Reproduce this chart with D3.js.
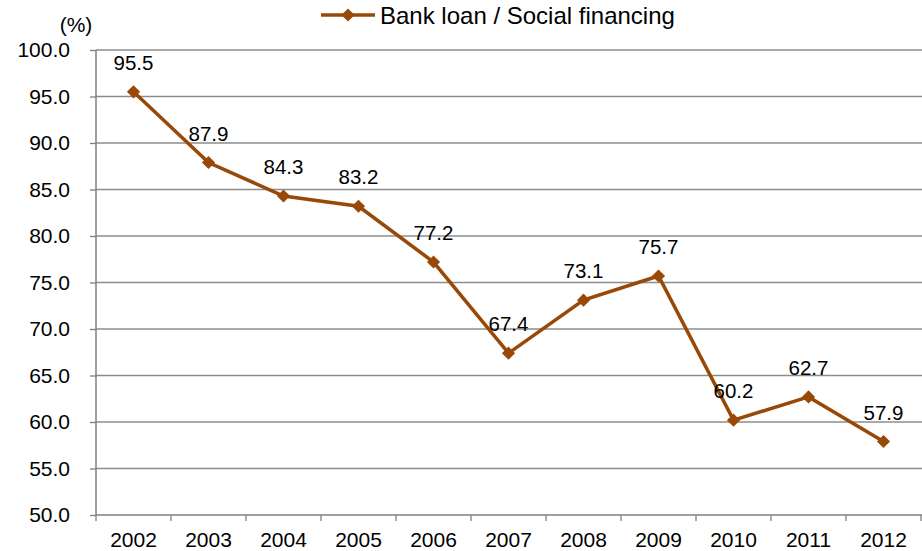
<!DOCTYPE html>
<html>
<head>
<meta charset="utf-8">
<script src="https://cdn.jsdelivr.net/npm/d3@7"></script>
<style>
  body { margin: 0; background: #fff; }
  text { font-family: "Liberation Sans", Arial, sans-serif; fill: #000; }
</style>
</head>
<body>
<div id="chart"></div>
<script>
// chart data
const years = ["2002", "2003", "2004", "2005", "2006", "2007", "2008", "2009", "2010", "2011", "2012"];
const loanShare = [95.5, 87.9, 84.3, 83.2, 77.2, 67.4, 73.1, 75.7, 60.2, 62.7, 57.9];
const yTicks = [50, 55, 60, 65, 70, 75, 80, 85, 90, 95, 100];
const seriesName = "Bank loan / Social financing";

const width = 922, height = 551;
const margin = { top: 50, right: 1, bottom: 36, left: 96 };
const lineColor = "#984807";
const axisColor = "#7f7f7f";

const svg = d3.select("#chart").append("svg")
  .attr("width", width)
  .attr("height", height);

const x = d3.scaleBand()
  .domain(years)
  .range([margin.left, width - margin.right]);

const y = d3.scaleLinear()
  .domain([50, 100])
  .range([height - margin.bottom, margin.top]);

// gridlines
svg.append("g")
  .selectAll("line")
  .data(yTicks.filter(d => d > 50))
  .enter().append("line")
  .attr("x1", margin.left)
  .attr("x2", width)
  .attr("y1", d => y(d))
  .attr("y2", d => y(d))
  .attr("stroke", "#8c8c8c")
  .attr("stroke-width", 1.3);

// y axis
const yAxis = svg.append("g")
  .attr("transform", `translate(${margin.left},0)`)
  .call(d3.axisLeft(y).tickValues(yTicks).tickSize(6).tickFormat(d3.format(".1f")));
yAxis.select(".domain").attr("stroke", axisColor).attr("stroke-width", 1.5).attr("d", `M0,${y(50)}V${y(100)}`);
yAxis.selectAll(".tick line").attr("stroke", axisColor).attr("stroke-width", 1.3);
yAxis.selectAll(".tick text").attr("x", -26).style("font-size", "21px").attr("font-family", null);

// x axis
const xAxis = svg.append("g")
  .attr("transform", `translate(0,${y(50)})`)
  .call(d3.axisBottom(x).tickSize(0));
xAxis.select(".domain").attr("stroke", axisColor).attr("stroke-width", 1.5).attr("d", `M${margin.left},0H${width}`);
xAxis.selectAll(".tick text").attr("y", 17).style("font-size", "21px").attr("font-family", null);

// category boundary ticks
const bounds = d3.range(years.length + 1).map(i => margin.left + x.step() * i);
svg.append("g")
  .selectAll("line")
  .data(bounds)
  .enter().append("line")
  .attr("x1", d => d)
  .attr("x2", d => d)
  .attr("y1", y(50))
  .attr("y2", y(50) + 6)
  .attr("stroke", axisColor)
  .attr("stroke-width", 1.3);

// unit label
svg.append("text")
  .attr("x", 76)
  .attr("y", 32)
  .style("text-anchor", "middle")
  .style("font-size", "21px")
  .text("(%)");

// series line
const cx = (d, i) => x(years[i]) + x.bandwidth() / 2;
const line = d3.line()
  .x(cx)
  .y(d => y(d));

svg.append("path")
  .datum(loanShare)
  .attr("d", line)
  .attr("fill", "none")
  .attr("stroke", lineColor)
  .attr("stroke-width", 3.5);

const diamond = d3.symbol().type(d3.symbolDiamond2).size(110);
svg.append("g")
  .selectAll("path")
  .data(loanShare)
  .enter().append("path")
  .attr("d", diamond)
  .attr("transform", (d, i) => `translate(${cx(d, i)},${y(d)})`)
  .attr("fill", lineColor);

// data labels
svg.append("g")
  .selectAll("text")
  .data(loanShare)
  .enter().append("text")
  .attr("x", cx)
  .attr("y", d => y(d) - 22)
  .style("text-anchor", "middle")
  .style("font-size", "20.5px")
  .text(d => d3.format(".1f")(d));

// legend
const legend = svg.append("g").attr("transform", "translate(321,15)");
legend.append("line")
  .attr("x1", 0).attr("x2", 54)
  .attr("stroke", lineColor).attr("stroke-width", 3.5);
legend.append("path")
  .attr("d", diamond)
  .attr("transform", "translate(27,0)")
  .attr("fill", lineColor);
legend.append("text")
  .attr("x", 59)
  .attr("y", 9)
  .style("font-size", "24px")
  .text(seriesName);
</script>
</body>
</html>
